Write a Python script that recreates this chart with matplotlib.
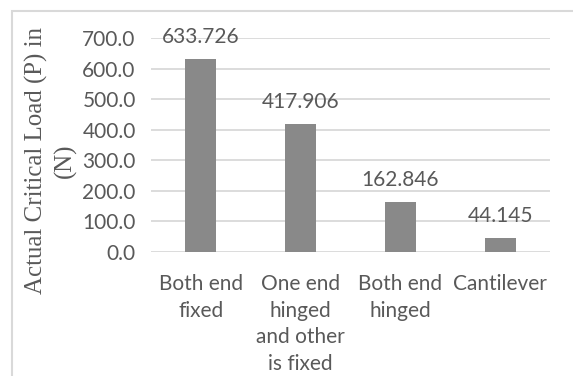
import matplotlib
matplotlib.use("Agg")
import matplotlib.pyplot as plt
from matplotlib.patches import Rectangle
import numpy as np

# chart data
categories = ["Both end\nfixed", "One end\nhinged\nand other\nis fixed", "Both end\nhinged", "Cantilever"]
loads = [633.726, 417.906, 162.846, 44.145]
value_labels = ["633.726", "417.906", "162.846", "44.145"]
yticks = [0, 100, 200, 300, 400, 500, 600, 700]

W, H = 573, 376
text_col = "#595959"
grid_col = "#d9d9d9"
bar_col = "#898989"
tick_font = "Lato"
fs = 15

fig = plt.figure(figsize=(W / 100, H / 100), dpi=100)
ax = fig.add_axes([151 / W, 1 - 251.7 / H, 399 / W, (251.7 - 38.3) / H])

x = np.arange(len(categories))
ax.bar(x, loads, width=0.31, color=bar_col, zorder=3)
ax.set_xlim(-0.5, 3.5)
ax.set_ylim(0, 700)

ax.set_yticks(yticks)
ax.set_yticklabels([f"{v:.1f}" for v in yticks], fontsize=fs, color=text_col, family=tick_font)
ax.set_xticks(x)
ax.set_xticklabels(categories, fontsize=fs, color=text_col, family=tick_font, linespacing=1.42, va="top")
ax.tick_params(axis="both", length=0)
ax.tick_params(axis="y", pad=11)
ax.tick_params(axis="x", pad=16)

ax.grid(axis="y", color=grid_col, linewidth=1.3, zorder=0)
for s in ax.spines.values():
    s.set_visible(False)

for xi, v, lab in zip(x, loads, value_labels):
    ax.annotate(lab, (xi, v), xytext=(0, 11.5), textcoords="offset points",
                ha="center", va="baseline", fontsize=fs, color=text_col, family=tick_font)

fig.text(51 / W, 1 - 161 / H, "Actual Critical Load (P) in\n(N)", rotation=90,
         ha="center", va="center", fontsize=17.9, family="Liberation Serif",
         color=text_col, linespacing=1.35, multialignment="center")

# chart frame (right and bottom edges fall outside the picture)
fig.patches.append(Rectangle((12 / W, -0.1), 1.2, 1 - 10.7 / H + 0.1, transform=fig.transFigure,
                             fill=False, edgecolor=grid_col, linewidth=1.5))

fig.savefig("out.png", dpi=100)
